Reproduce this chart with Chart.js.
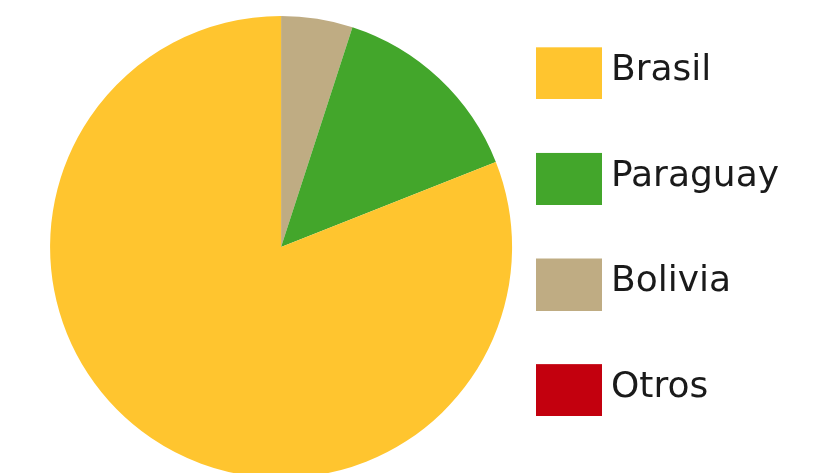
<!DOCTYPE html>
<html>
<head>
<meta charset="utf-8">
<script src="https://cdn.jsdelivr.net/npm/chart.js@4/dist/chart.umd.min.js"></script>
<style>
  html, body { margin: 0; padding: 0; background: #ffffff; overflow: hidden; width: 824px; height: 473px; }
  #wrap { position: absolute; left: 0; top: 0; width: 824px; height: 520px; }
</style>
</head>
<body>
<div id="wrap"><canvas id="c"></canvas></div>
<script>
// ---- data ----
const categories = ['Brasil', 'Paraguay', 'Bolivia', 'Otros'];
const shares = [81, 14, 5, 0];
const colors = ['#FFC52F', '#43A62B', '#BFAC83', '#C3000E'];

// swatch canvas used as legend point style (66x52 box, nudged down a little)
function makeSwatch(color) {
  const c = document.createElement('canvas');
  c.width = 66; c.height = 57;
  const g = c.getContext('2d');
  g.fillStyle = color;
  g.fillRect(0, 5, 66, 52);
  return c;
}

// Chart.js draws clockwise from 12 o'clock; the reference runs the series
// counter-clockwise, so feed the dataset reversed and reverse the legend back.
const chartLabels = categories.slice().reverse();
const chartData = shares.slice().reverse();
const chartColors = colors.slice().reverse();

new Chart(document.getElementById('c'), {
  type: 'pie',
  data: {
    labels: chartLabels,
    datasets: [{
      data: chartData,
      backgroundColor: chartColors,
      borderWidth: 0,
      radius: 231,
      clip: false
    }]
  },
  options: {
    responsive: true,
    maintainAspectRatio: false,
    animation: false,
    layout: { padding: { left: 69, right: 35, top: 0, bottom: 26 } },
    plugins: {
      tooltip: { enabled: false },
      legend: {
        position: 'right',
        align: 'start',
        reverse: true,
        labels: {
          usePointStyle: true,
          pointStyleWidth: 47,
          padding: 52.8,
          color: '#1a1a1a',
          font: { family: 'DejaVu Sans', size: 36, lineHeight: '52.8px' },
          generateLabels(chart) {
            const ds = chart.data.datasets[0];
            return chart.data.labels.map((lbl, i) => ({
              text: [lbl],
              fillStyle: ds.backgroundColor[i],
              strokeStyle: ds.backgroundColor[i],
              lineWidth: 0,
              pointStyle: makeSwatch(ds.backgroundColor[i]),
              fontColor: '#1a1a1a',
              hidden: false,
              index: i
            }));
          }
        }
      }
    }
  }
});
</script>
</body>
</html>
